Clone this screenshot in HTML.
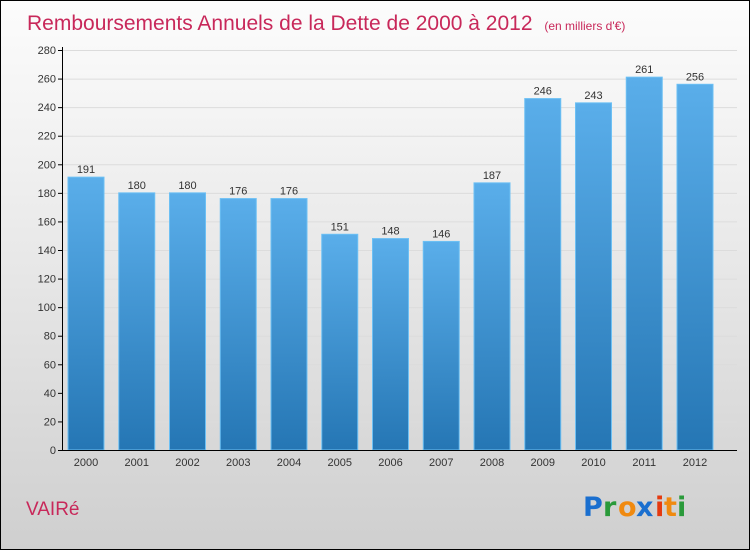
<!DOCTYPE html>
<html><head><meta charset="utf-8"><style>
body{margin:0;}
#c{width:750px;height:550px;position:relative;box-sizing:border-box;border:1px solid #000;background:linear-gradient(#fcfcfc,#f0f0f0 30%,#cfcfcf);font-family:"Liberation Sans",sans-serif;overflow:hidden}
</style></head><body>
<div id="c">
<svg width="750" height="550" style="position:absolute;left:-1px;top:-1px" id="svg">
<text x="27" y="30" font-size="21" fill="#c8285a">Remboursements Annuels de la Dette de 2000 à 2012 <tspan font-size="12" dx="6">(en milliers d'€)</tspan></text>
<text x="26" y="515" font-size="19" fill="#c8285a">VAIRé</text>
<g font-size="27" font-weight="bold" font-family="'DejaVu Sans',sans-serif">
<text x="583" y="516" fill="#1a6fcf">P</text><text x="603" y="516" fill="#2a9a3a">r</text><text x="618" y="516" fill="#f08a10">o</text><text x="636" y="516" fill="#1a6fcf">x</text><text x="655" y="516" fill="#e53a10">i</text><text x="664" y="516" fill="#f08a10">t</text><text x="677" y="516" fill="#2a9a3a">i</text>
</g>
<defs><linearGradient id="bg" x1="0" y1="0" x2="0" y2="1"><stop offset="0" stop-color="#5aaeea"/><stop offset="1" stop-color="#2576b4"/></linearGradient></defs>
<g id="plot"></g>
</svg>
</div>
<script>
const years=["2000","2001","2002","2003","2004","2005","2006","2007","2008","2009","2010","2011","2012"];
const values=[191,180,180,176,176,151,148,146,187,246,243,261,256];
const ticks=[0,20,40,60,80,100,120,140,160,180,200,220,240,260,280];
const NS="http://www.w3.org/2000/svg";
const g=document.getElementById('plot');
const y0=450,y1=50,vmax=280,x0=62,step=50.75,first=86,bw=36;
const Y=v=>y0-(v/vmax)*(y0-y1);
const X=i=>first+i*step;
function mk(t,a){const e=document.createElementNS(NS,t);for(const k in a)e.setAttribute(k,a[k]);g.appendChild(e);return e;}
ticks.forEach(t=>{
 const l=mk('line',{x1:60,x2:737,y1:Y(t)+.5,y2:Y(t)+.5,stroke:'#dcdcdc'});
 
 
 const tk=mk('line',{x1:58,x2:62,y1:Y(t)+.5,y2:Y(t)+.5,stroke:'#000'});
 
 
 const tx=mk('text',{x:56,y:Y(t)+4,'text-anchor':'end','font-size':11,fill:'#333'});tx.textContent=t;
 
 
});
values.forEach((v,i)=>{
 const r=mk('rect',{x:X(i)-bw/2,y:Y(v),width:bw,height:y0-Y(v),fill:'url(#bg)',stroke:'#6cc0f4','stroke-width':1});
 
 
 const t=mk('text',{x:X(i),y:Y(v)-4,'text-anchor':'middle','font-size':11,fill:'#333'});t.textContent=v;
 
 
 const xt=mk('text',{x:X(i),y:466,'text-anchor':'middle','font-size':11,fill:'#333'});xt.textContent=years[i];
 
 
});
const ya=mk('line',{x1:x0+.5,x2:x0+.5,y1:47,y2:y0,stroke:'#000'});


const xa=mk('line',{x1:58,x2:737,y1:y0+.5,y2:y0+.5,stroke:'#000'});


</script>
</body></html>
